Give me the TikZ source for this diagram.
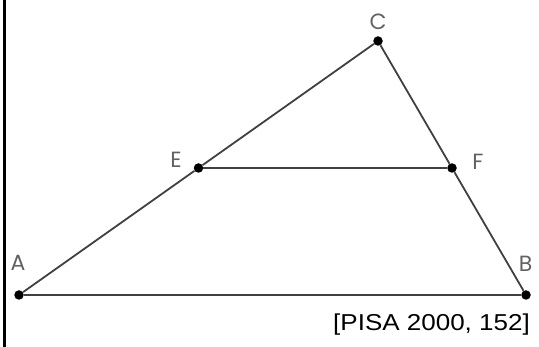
\documentclass[tikz,border=0pt]{standalone}
\usepackage{fontspec}
\setmainfont{Liberation Sans}
\newfontfamily\labelfont{Poppins}
\usetikzlibrary{calc}

\begin{document}
\begin{tikzpicture}[
  x=1pt, y=-1pt,
  vertex/.style={circle, fill=black, inner sep=0pt, minimum size=9.5pt},
  edge/.style={draw=black!75, line width=1.8pt},
  lbl/.style={text=black!62, inner sep=0pt, font=\labelfont\fontsize{22}{22}\selectfont},
  caption/.style={inner sep=0pt, font=\fontsize{23}{24}\selectfont}
]
\useasboundingbox (0,0) rectangle (539,347);
\draw[line width=3pt] (4,0) -- (4,347);

\node[vertex] (A) at (19,295) {};
\node[vertex] (B) at (526,295) {};
\node[vertex] (C) at (378,41) {};
\node[vertex] (E) at ($(A)!0.5!(C)$) {};
\node[vertex] (F) at ($(C)!0.5!(B)$) {};

\draw[edge] (A) -- (B);
\draw[edge] (A) -- (E);
\draw[edge] (E) -- (C);
\draw[edge] (C) -- (F);
\draw[edge] (F) -- (B);
\draw[edge] (E) -- (F);

\node[lbl] (labelA) at (18,262.5) {A};
\node[lbl] (labelB) at (525.5,264) {B};
\node[lbl] (labelC) at (378,22) {C};
\node[lbl] (labelE) at (176,159.5) {E};
\node[lbl] (labelF) at (478,161.5) {F};

\node[caption] (source) at (431.5,324.5) {\scalebox{1.13}[1]{[PISA 2000, 152]}};
\end{tikzpicture}
\end{document}
